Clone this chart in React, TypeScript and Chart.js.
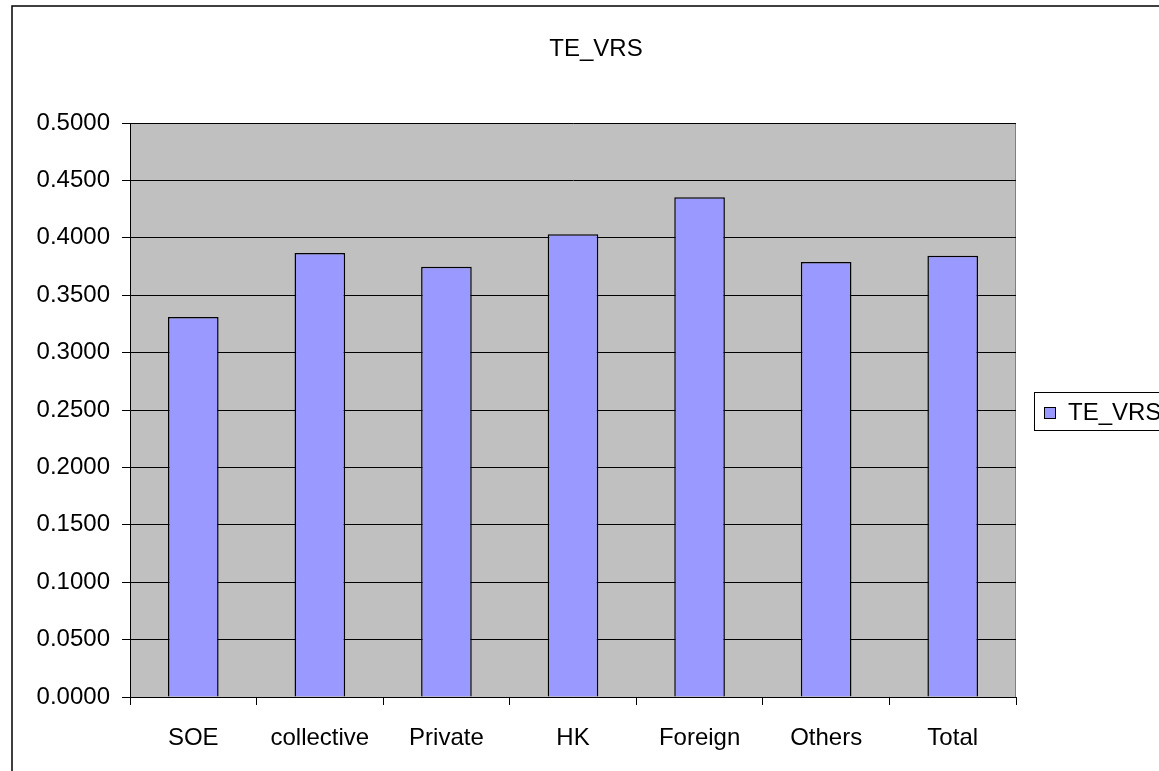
import React, { useEffect, useRef } from "react";
import { Chart, registerables } from "chart.js";

Chart.register(...registerables);

const categories = ["SOE", "collective", "Private", "HK", "Foreign", "Others", "Total"];
const teVrs = [0.331, 0.3868, 0.3748, 0.403, 0.4353, 0.3789, 0.3844];
const seriesName = "TE_VRS";
const chartTitle = "TE_VRS";
const yMin = 0;
const yMax = 0.5;
const yStep = 0.05;

const FONT = "'Liberation Sans', Arial, sans-serif";
const BAR_FILL = "#9999FF";
const PLOT_BG = "#C0C0C0";

// Paints the grey plot area, the outer frame, the title and the boxed legend.
const excelFrame = {
  id: "excelFrame",
  beforeDraw(chart: any) {
    const { ctx, chartArea } = chart;
    ctx.save();
    ctx.fillStyle = "#ffffff";
    ctx.fillRect(0, 0, chart.width, chart.height);
    ctx.fillStyle = PLOT_BG;
    ctx.fillRect(chartArea.left, chartArea.top, chartArea.right - chartArea.left, chartArea.bottom - chartArea.top);
    ctx.strokeStyle = "#808080";
    ctx.lineWidth = 1;
    ctx.strokeRect(chartArea.left + 0.5, chartArea.top + 0.5, chartArea.right - chartArea.left - 1, chartArea.bottom - chartArea.top);
    ctx.restore();
  },
  afterDraw(chart: any) {
    const { ctx } = chart;
    ctx.save();
    // outer chart frame
    ctx.strokeStyle = "#000000";
    ctx.lineWidth = 1.5;
    ctx.strokeRect(12, 6, chart.width + 40, chart.height + 40);

    // title
    ctx.fillStyle = "#000000";
    ctx.font = `24px ${FONT}`;
    ctx.textAlign = "center";
    ctx.textBaseline = "alphabetic";
    ctx.fillText(chartTitle, 596, 56);

    // legend
    const ds = chart.data.datasets[0];
    ctx.lineWidth = 1;
    ctx.strokeStyle = "#000000";
    ctx.strokeRect(1034.5, 392.5, 200, 38);
    ctx.fillStyle = ds.backgroundColor;
    ctx.fillRect(1044, 407, 12, 12);
    ctx.strokeRect(1044.5, 407.5, 11, 11);
    ctx.fillStyle = "#000000";
    ctx.textAlign = "left";
    ctx.fillText(ds.label, 1068, 420);
    ctx.restore();
  },
};

export default function App() {
  const canvasRef = useRef<HTMLCanvasElement | null>(null);

  useEffect(() => {
    if (!canvasRef.current) return;
    const chart = new Chart(canvasRef.current, {
      type: "bar",
      data: {
        labels: categories,
        datasets: [
          {
            label: seriesName,
            data: teVrs,
            backgroundColor: BAR_FILL,
            borderColor: "#000000",
            borderWidth: 1.5,
            barPercentage: 0.4,
            categoryPercentage: 1.0,
          },
        ],
      },
      options: {
        responsive: false,
        animation: false,
        devicePixelRatio: 1,
        layout: { padding: { top: 123, right: 143, bottom: 0, left: 0 } },
        plugins: {
          legend: { display: false },
          title: { display: false },
          tooltip: { enabled: false },
        },
        scales: {
          x: {
            offset: true,
            afterFit(scale: any) {
              scale.height = 74;
            },
            grid: {
              offset: true,
              drawOnChartArea: false,
              drawTicks: true,
              tickLength: 8,
              color: "#000000",
              lineWidth: 1,
            },
            border: { color: "#000000", width: 1 },
            ticks: {
              color: "#000000",
              font: { family: FONT, size: 24 },
              padding: 19,
              maxRotation: 0,
              autoSkip: false,
            },
          },
          y: {
            min: yMin,
            max: yMax,
            afterFit(scale: any) {
              scale.width = 130;
            },
            grid: {
              color: "#000000",
              lineWidth: 1,
              drawTicks: true,
              tickLength: 8,
            },
            border: { color: "#000000", width: 1 },
            ticks: {
              stepSize: yStep,
              color: "#000000",
              font: { family: FONT, size: 24 },
              padding: 12,
              callback: (v: any) => Number(v).toFixed(4),
            },
          },
        },
      },
      plugins: [excelFrame],
    });
    return () => chart.destroy();
  }, []);

  return (
    <div style={{ position: "fixed", left: 0, top: 0, width: 1159, height: 771, background: "#fff" }}>
      <canvas ref={canvasRef} width={1159} height={771} style={{ display: "block" }} />
    </div>
  );
}
